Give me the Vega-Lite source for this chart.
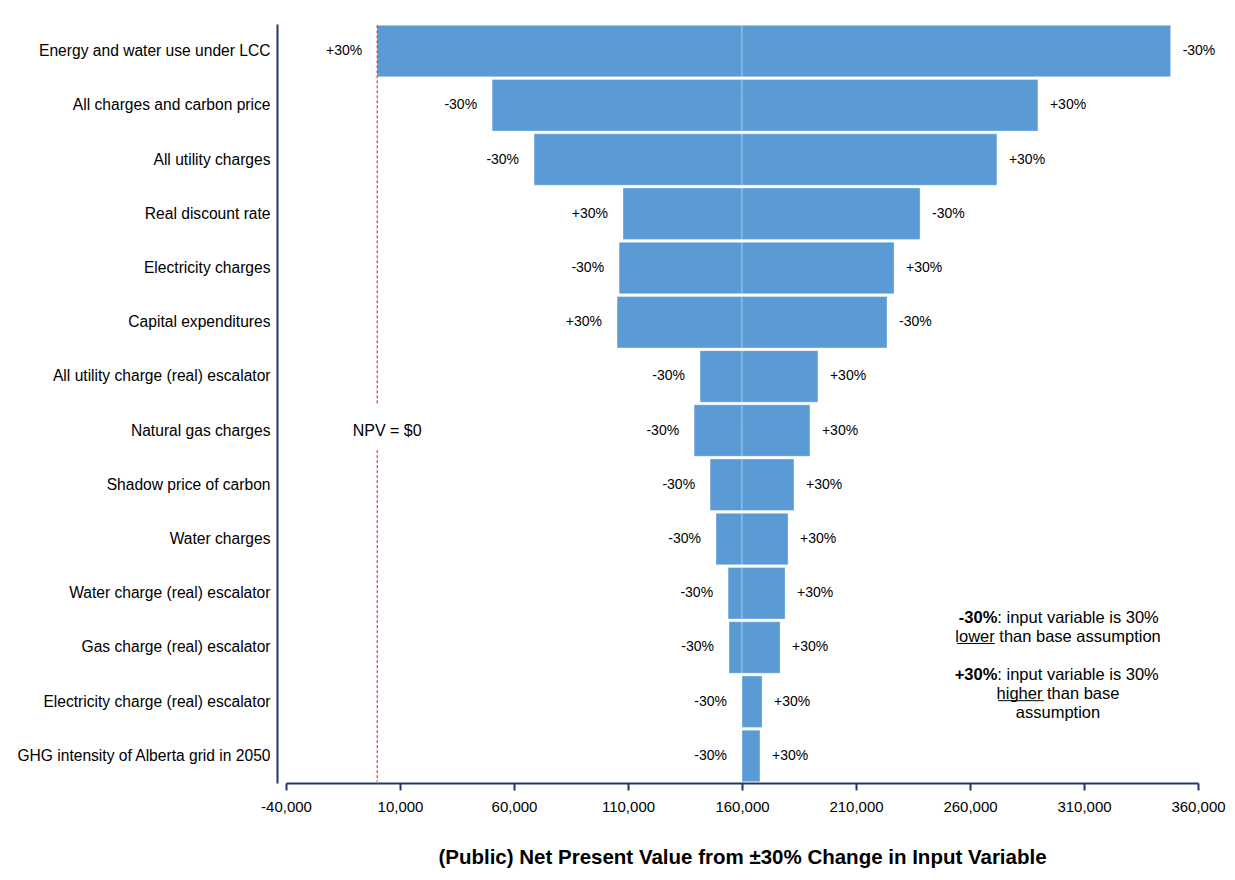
{
  "$schema": "https://vega.github.io/schema/vega-lite/v6.json",
  "width": 912,
  "height": 759,
  "autosize": {"type": "none"},
  "padding": {"left": 286, "top": 24, "right": 37, "bottom": 97},
  "background": "white",
  "config": {
    "view": {"stroke": null},
    "font": "Liberation Sans",
    "text": {"font": "Liberation Sans", "color": "black"}
  },
  "datasets": {
    "factors": [
      {"factor": "Energy and water use under LCC", "base": 160000, "low": 0, "high": 348000, "lowCase": "+30%", "highCase": "-30%"},
      {"factor": "All charges and carbon price", "base": 160000, "low": 50400, "high": 289800, "lowCase": "-30%", "highCase": "+30%"},
      {"factor": "All utility charges", "base": 160000, "low": 68800, "high": 271800, "lowCase": "-30%", "highCase": "+30%"},
      {"factor": "Real discount rate", "base": 160000, "low": 107800, "high": 238100, "lowCase": "+30%", "highCase": "-30%"},
      {"factor": "Electricity charges", "base": 160000, "low": 106100, "high": 226700, "lowCase": "-30%", "highCase": "+30%"},
      {"factor": "Capital expenditures", "base": 160000, "low": 105200, "high": 223600, "lowCase": "+30%", "highCase": "-30%"},
      {"factor": "All utility charge (real) escalator", "base": 160000, "low": 141600, "high": 193300, "lowCase": "-30%", "highCase": "+30%"},
      {"factor": "Natural gas charges", "base": 160000, "low": 139000, "high": 189800, "lowCase": "-30%", "highCase": "+30%"},
      {"factor": "Shadow price of carbon", "base": 160000, "low": 146000, "high": 182800, "lowCase": "-30%", "highCase": "+30%"},
      {"factor": "Water charges", "base": 160000, "low": 148600, "high": 180200, "lowCase": "-30%", "highCase": "+30%"},
      {"factor": "Water charge (real) escalator", "base": 160000, "low": 153900, "high": 178900, "lowCase": "-30%", "highCase": "+30%"},
      {"factor": "Gas charge (real) escalator", "base": 160000, "low": 154300, "high": 176700, "lowCase": "-30%", "highCase": "+30%"},
      {"factor": "Electricity charge (real) escalator", "base": 160000, "low": 160000, "high": 168800, "lowCase": "-30%", "highCase": "+30%"},
      {"factor": "GHG intensity of Alberta grid in 2050", "base": 160000, "low": 160000, "high": 167900, "lowCase": "-30%", "highCase": "+30%"}
    ]
  },
  "layer": [
    {
      "data": {"name": "factors"},
      "mark": {"type": "bar", "color": "#5B9BD5", "stroke": "white", "strokeOpacity": 0.35, "strokeWidth": 1},
      "encoding": {
        "y": {
          "field": "factor",
          "type": "nominal",
          "title": null,
          "scale": {
            "domain": [
              "Energy and water use under LCC",
              "All charges and carbon price",
              "All utility charges",
              "Real discount rate",
              "Electricity charges",
              "Capital expenditures",
              "All utility charge (real) escalator",
              "Natural gas charges",
              "Shadow price of carbon",
              "Water charges",
              "Water charge (real) escalator",
              "Gas charge (real) escalator",
              "Electricity charge (real) escalator",
              "GHG intensity of Alberta grid in 2050"
            ],
            "paddingInner": 0.05,
            "paddingOuter": 0.025
          },
          "axis": {
            "offset": 9,
            "ticks": false,
            "labelPadding": 7,
            "labelFontSize": 15.6,
            "labelColor": "black",
            "labelLimit": 400,
            "domainColor": "#203864",
            "domainWidth": 2
          }
        },
        "x": {
          "field": "low",
          "type": "quantitative",
          "title": "(Public) Net Present Value from ±30% Change in Input Variable",
          "scale": {"domain": [-40000, 360000], "nice": false, "zero": false},
          "axis": {
            "titleFontSize": 20.5,
            "titleFontWeight": "bold",
            "titleColor": "black",
            "titlePadding": 33,
            "values": [-40000, 10000, 60000, 110000, 160000, 210000, 260000, 310000, 360000],
            "labelExpr": "replace(format(datum.value, ','), '−', '-')",
            "labelFontSize": 15,
            "labelColor": "black",
            "labelPadding": 9,
            "labelFlush": false,
            "grid": false,
            "tickColor": "#203864",
            "tickSize": 7,
            "tickWidth": 2,
            "domainColor": "#203864",
            "domainWidth": 2
          }
        },
        "x2": {"field": "base"}
      }
    },
    {
      "data": {"name": "factors"},
      "mark": {"type": "bar", "color": "#5B9BD5", "stroke": "white", "strokeOpacity": 0.35, "strokeWidth": 1},
      "encoding": {
        "y": {"field": "factor", "type": "nominal", "title": null},
        "x": {"field": "base", "type": "quantitative", "title": "(Public) Net Present Value from ±30% Change in Input Variable"},
        "x2": {"field": "high"}
      }
    },
    {
      "data": {"name": "factors"},
      "mark": {"type": "text", "align": "right", "baseline": "middle", "dx": -15, "fontSize": 14},
      "encoding": {
        "y": {"field": "factor", "type": "nominal", "title": null},
        "x": {"field": "low", "type": "quantitative", "title": "(Public) Net Present Value from ±30% Change in Input Variable"},
        "text": {"field": "lowCase"}
      }
    },
    {
      "data": {"name": "factors"},
      "mark": {"type": "text", "align": "left", "baseline": "middle", "dx": 12, "fontSize": 14},
      "encoding": {
        "y": {"field": "factor", "type": "nominal", "title": null},
        "x": {"field": "high", "type": "quantitative", "title": "(Public) Net Present Value from ±30% Change in Input Variable"},
        "text": {"field": "highCase"}
      }
    },
    {
      "data": {"values": [{"npv": 0, "from": "Energy and water use under LCC", "to": "Natural gas charges"}]},
      "mark": {"type": "rule", "color": "#FF0000", "strokeDash": [3, 2], "strokeWidth": 1},
      "encoding": {
        "x": {"field": "npv", "type": "quantitative", "title": "(Public) Net Present Value from ±30% Change in Input Variable"},
        "y": {"field": "from", "type": "nominal", "bandPosition": 0, "title": null},
        "y2": {"field": "to", "bandPosition": 0}
      }
    },
    {
      "data": {"values": [{"npv": 0, "from": "Natural gas charges", "to": "GHG intensity of Alberta grid in 2050"}]},
      "mark": {"type": "rule", "color": "#FF0000", "strokeDash": [3, 2], "strokeWidth": 1},
      "encoding": {
        "x": {"field": "npv", "type": "quantitative", "title": "(Public) Net Present Value from ±30% Change in Input Variable"},
        "y": {"field": "from", "type": "nominal", "bandPosition": 0.88, "title": null},
        "y2": {"field": "to", "bandPosition": 1}
      }
    },
    {
      "data": {"values": [{"npv": 0, "factor": "Natural gas charges", "note": "NPV = $0"}]},
      "mark": {"type": "text", "align": "center", "baseline": "middle", "dx": 10, "fontSize": 16},
      "encoding": {
        "x": {"field": "npv", "type": "quantitative", "title": "(Public) Net Present Value from ±30% Change in Input Variable"},
        "y": {"field": "factor", "type": "nominal", "title": null},
        "text": {"field": "note"}
      }
    },
    {
      "data": {"values": [{"npv": 272000, "factor": "Gas charge (real) escalator", "key": "-30%"}]},
      "mark": {"type": "text", "align": "right", "baseline": "middle", "dy": -29, "fontSize": 16.5, "fontWeight": "bold"},
      "encoding": {
        "x": {"field": "npv", "type": "quantitative", "title": "(Public) Net Present Value from ±30% Change in Input Variable"},
        "y": {"field": "factor", "type": "nominal", "title": null},
        "text": {"field": "key"}
      }
    },
    {
      "data": {"values": [{"npv": 272000, "factor": "Gas charge (real) escalator", "note": ": input variable is 30%"}]},
      "mark": {"type": "text", "align": "left", "baseline": "middle", "dy": -29, "fontSize": 16.5},
      "encoding": {
        "x": {"field": "npv", "type": "quantitative", "title": "(Public) Net Present Value from ±30% Change in Input Variable"},
        "y": {"field": "factor", "type": "nominal", "title": null},
        "text": {"field": "note"}
      }
    },
    {
      "data": {"values": [{"npv": 298600, "factor": "Gas charge (real) escalator", "note": "lower than base assumption"}]},
      "mark": {"type": "text", "align": "center", "baseline": "middle", "dy": -10, "fontSize": 16.5},
      "encoding": {
        "x": {"field": "npv", "type": "quantitative", "title": "(Public) Net Present Value from ±30% Change in Input Variable"},
        "y": {"field": "factor", "type": "nominal", "title": null},
        "text": {"field": "note"}
      }
    },
    {
      "data": {"values": [{"npv": 272000, "factor": "Gas charge (real) escalator", "key": "+30%"}]},
      "mark": {"type": "text", "align": "right", "baseline": "middle", "dy": 28, "fontSize": 16.5, "fontWeight": "bold"},
      "encoding": {
        "x": {"field": "npv", "type": "quantitative", "title": "(Public) Net Present Value from ±30% Change in Input Variable"},
        "y": {"field": "factor", "type": "nominal", "title": null},
        "text": {"field": "key"}
      }
    },
    {
      "data": {"values": [{"npv": 272000, "factor": "Gas charge (real) escalator", "note": ": input variable is 30%"}]},
      "mark": {"type": "text", "align": "left", "baseline": "middle", "dy": 28, "fontSize": 16.5},
      "encoding": {
        "x": {"field": "npv", "type": "quantitative", "title": "(Public) Net Present Value from ±30% Change in Input Variable"},
        "y": {"field": "factor", "type": "nominal", "title": null},
        "text": {"field": "note"}
      }
    },
    {
      "data": {"values": [{"npv": 298600, "factor": "Gas charge (real) escalator", "note": ["higher than base", "assumption"]}]},
      "mark": {"type": "text", "align": "center", "baseline": "middle", "dy": 47, "fontSize": 16.5, "lineHeight": 19},
      "encoding": {
        "x": {"field": "npv", "type": "quantitative", "title": "(Public) Net Present Value from ±30% Change in Input Variable"},
        "y": {"field": "factor", "type": "nominal", "title": null},
        "text": {"field": "note"}
      }
    },
    {
      "data": {"values": [{"factor": "Gas charge (real) escalator", "from": 254300, "to": 270900}]},
      "mark": {"type": "rule", "color": "black", "strokeWidth": 1, "yOffset": -4},
      "encoding": {
        "x": {"field": "from", "type": "quantitative", "title": "(Public) Net Present Value from ±30% Change in Input Variable"},
        "x2": {"field": "to"},
        "y": {"field": "factor", "type": "nominal", "title": null}
      }
    },
    {
      "data": {"values": [{"factor": "Electricity charge (real) escalator", "from": 272300, "to": 292400}]},
      "mark": {"type": "rule", "color": "black", "strokeWidth": 1, "yOffset": -1},
      "encoding": {
        "x": {"field": "from", "type": "quantitative", "title": "(Public) Net Present Value from ±30% Change in Input Variable"},
        "x2": {"field": "to"},
        "y": {"field": "factor", "type": "nominal", "title": null}
      }
    }
  ]
}
